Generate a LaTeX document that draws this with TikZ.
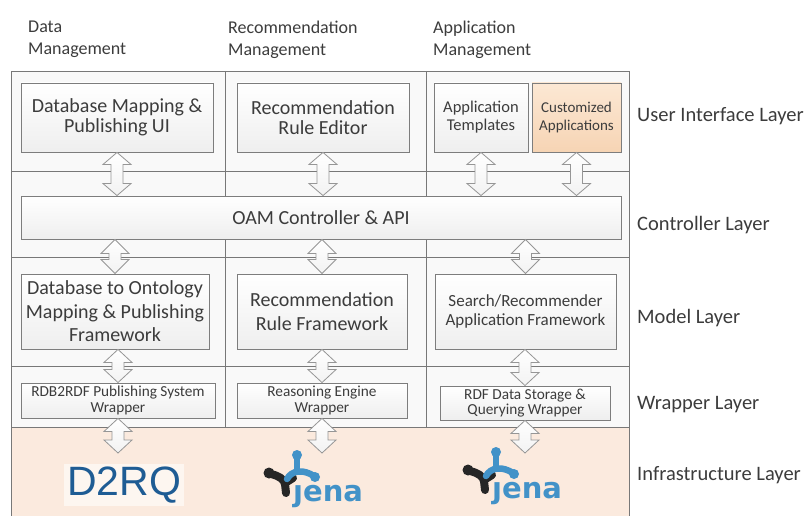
\documentclass[tikz,border=0pt]{standalone}
\usepackage{fontspec}
\setmainfont{Carlito}
\newfontfamily\dejavu{DejaVu Sans}
\newfontfamily\libsans{Liberation Sans}
\usetikzlibrary{calc}
\definecolor{boxline}{RGB}{125,125,125}
\definecolor{frameline}{RGB}{120,120,120}
\definecolor{txt}{RGB}{60,60,60}
\definecolor{peach}{RGB}{251,234,222}
\definecolor{custA}{RGB}{252,232,212}
\definecolor{custB}{RGB}{246,212,180}
\definecolor{d2rqc}{RGB}{30,92,148}
\definecolor{jblue}{RGB}{66,146,200}
\definecolor{jblack}{RGB}{38,38,38}
\definecolor{band}{RGB}{249,249,249}
\definecolor{arrline}{RGB}{150,150,150}

\newcommand{\blockarr}[3]{%
 \draw[barrow] let \p1=(#1), \p2=(#2) in
  (\x1,\y1) -- ({\x1+14pt},{\y1-#3}) -- ({\x1+6pt},{\y1-#3}) -- ({\x1+6pt},{\y2+#3}) -- ({\x1+14pt},{\y2+#3}) -- (\x1,\y2) -- ({\x1-14pt},{\y2+#3}) -- ({\x1-6pt},{\y2+#3}) -- ({\x1-6pt},{\y1-#3}) -- ({\x1-14pt},{\y1-#3}) -- cycle;}

\begin{document}
\begin{tikzpicture}[x=1pt,y=-1pt,
  frame/.style={draw=frameline, line width=0.8pt},
  box/.style={draw=boxline, line width=0.9pt, top color=white, bottom color=gray!13, text=txt, align=center, inner sep=0pt},
  custbox/.style={box, top color=custA, bottom color=custB},
  hdr/.style={font=\fontsize{18}{21.5}\selectfont, text=txt, align=left, inner sep=0pt, anchor=north west},
  lay/.style={font=\fontsize{20.5}{24}\selectfont, text=txt, inner sep=0pt, anchor=base west},
  barrow/.style={draw=arrline, line width=0.8pt, top color=white, bottom color=gray!10},
  jtext/.style={font=\dejavu\bfseries\fontsize{29}{29}\selectfont, text=jblue, inner sep=0pt, anchor=base west},
  jbk/.style={draw=jblack, line width=8pt, line cap=round, line join=round},
  jbl/.style={draw=jblue, line width=6.5pt, line cap=round, line join=round}]
\useasboundingbox (0,0) rectangle (811,516);

% frame
\fill[band] (11,71) rectangle (629,427);
\fill[peach] (11,427) rectangle (629,530);
\draw[frame] (11,530) -- (11,71) -- (629,71) -- (629,530);
\draw[frame] (11,171) -- (629,171);
\draw[frame] (11,257) -- (629,257);
\draw[frame] (11,366) -- (629,366);
\draw[frame] (11,427) -- (629,427);
\draw[frame] (225,71) -- (225,427);
\draw[frame] (426,71) -- (426,427);

% headers
\node[hdr] (hd1) at (28,21) {Data\\Management};
\node[hdr] (hd2) at (228,21) {Recommendation\\Management};
\node[hdr] (hd3) at (433,21) {Application\\Management};

% UI layer
\node[box, minimum width=192, minimum height=69, font=\fontsize{20}{20.5}\selectfont] (ui1) at (117,117.5) {Database Mapping \&\\Publishing UI};
\node[box, minimum width=172, minimum height=69, font=\fontsize{20}{20.5}\selectfont] (ui2) at (323,117.5) {Recommendation\\Rule Editor};
\node[box, minimum width=94, minimum height=69, font=\fontsize{16.5}{18}\selectfont] (ui3) at (481,117.5) {Application\\Templates};
\node[custbox, minimum width=89, minimum height=69, font=\fontsize{15}{17.5}\selectfont] (ui4) at (576.5,117.5) {Customized\\Applications};

% controller
\node[box, minimum width=600, minimum height=43, font=\fontsize{20}{22}\selectfont] (oam) at (321,217.5) {OAM Controller \& API};

% model
\node[box, minimum width=188, minimum height=75, font=\fontsize{20}{23.5}\selectfont] (m1) at (115,311.5) {Database to Ontology\\Mapping \& Publishing\\Framework};
\node[box, minimum width=170, minimum height=75, font=\fontsize{20}{23.5}\selectfont] (m2) at (322,311.5) {Recommendation\\Rule Framework};
\node[box, minimum width=181, minimum height=75, font=\fontsize{17}{19.5}\selectfont] (m3) at (525.5,311.5) {Search/Recommender\\Application Framework};

% wrapper
\node[box, minimum width=194, minimum height=35, font=\fontsize{15.3}{15.5}\selectfont] (w1) at (118,400.5) {RDB2RDF Publishing System\\Wrapper};
\node[box, minimum width=170, minimum height=35, font=\fontsize{15.3}{15.5}\selectfont] (w2) at (322,400.5) {Reasoning Engine\\Wrapper};
\node[box, minimum width=170, minimum height=34, font=\fontsize{15.3}{15.5}\selectfont] (w3) at (525,403) {RDF Data Storage \&\\Querying Wrapper};

% layer labels
\node[lay] (l1) at (637,122) {User Interface Layer};
\node[lay] (l2) at (637,230) {Controller Layer};
\node[lay] (l3) at (637,323) {Model Layer};
\node[lay] (l4) at (637,409) {Wrapper Layer};
\node[lay] (l5) at (637,480) {Infrastructure Layer};

% infrastructure logos
\node[fill=white!55!peach, inner sep=0pt, minimum width=120, minimum height=42, text=d2rqc, font=\libsans\fontsize{41}{41}\selectfont] (d2rq) at (124,485) {D2RQ};

\node[jtext] (jena2) at (293,501) {ȷena};
\node[jtext] (jena3) at (492,498) {ȷena};
\foreach \j in {jena2,jena3}{
\begin{scope}[shift={(\j.base west)}]
  \draw[jbk] (-22,-27) .. controls (-14,-25) and (-9,-22) .. (-8,-17) -- (-7,-8);
  \draw[jbk] (-8,-18) -- (0,-23);
  \fill[jblack] (-24,-28) circle (5.5);
  \draw[jbl] (-6,-22) .. controls (-1,-31) and (10,-32) .. (21,-25);
  \draw[jbl] (4,-31) -- (4,-44);
  \fill[jblue] (4,-46) circle (5);
  \fill[jblue] (22,-24) circle (5);
\end{scope}}

\coordinate (in1) at (118,453);
\coordinate (in2) at (322,453);
\coordinate (in3) at (525,453);

% arrows
\blockarr{ui1.south}{ui1.south |- oam.north}{12pt}
\blockarr{ui2.south}{ui2.south |- oam.north}{12pt}
\blockarr{ui3.south}{ui3.south |- oam.north}{12pt}
\blockarr{ui4.south}{ui4.south |- oam.north}{12pt}
\blockarr{m1.north |- oam.south}{m1.north}{14pt}
\blockarr{m2.north |- oam.south}{m2.north}{14pt}
\blockarr{m3.north |- oam.south}{m3.north}{14pt}
\blockarr{w1.north |- m1.south}{w1.north}{13pt}
\blockarr{w2.north |- m2.south}{w2.north}{13pt}
\blockarr{w3.north |- m3.south}{w3.north}{13pt}
\blockarr{w1.south}{in1}{13pt}
\blockarr{w2.south}{in2}{13pt}
\blockarr{w3.south}{in3}{13pt}
\end{tikzpicture}
\end{document}
